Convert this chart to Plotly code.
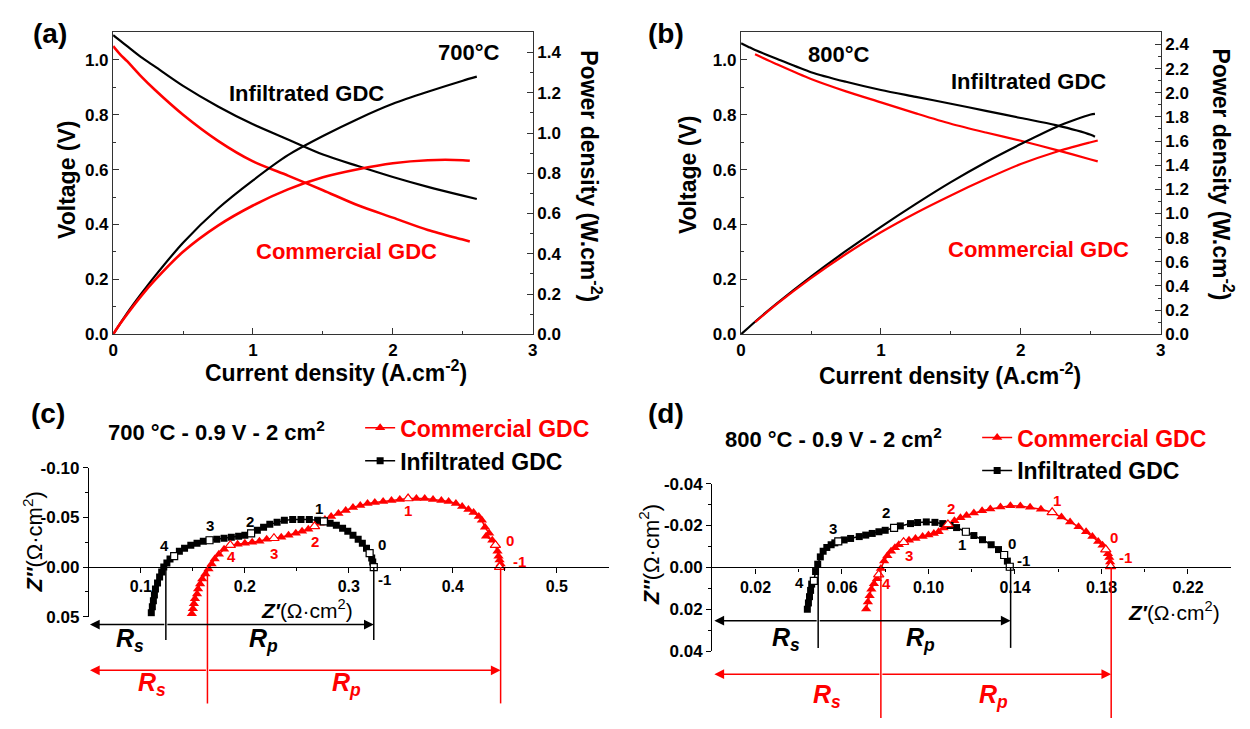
import plotly.graph_objects as go

W, H = 1250, 729
def px(x): return x / W
def py(y): return 1 - y / H

RED = "#ff0000"
BLK = "#000000"
AX = "#333333"
FONT = "Liberation Sans, Arial, sans-serif"

# ---------------- (a) 700 C polarisation ----------------
a_I_inf = [0, 0.05, 0.1, 0.2, 0.3, 0.5, 0.75, 1.0, 1.25, 1.5, 1.75, 2.0, 2.25, 2.5, 2.6]
a_V_inf = [1.09, 1.07, 1.05, 1.01, 0.975, 0.905, 0.83, 0.765, 0.71, 0.655, 0.613, 0.573, 0.537, 0.505, 0.493]
a_P_inf = [0, 0.053, 0.105, 0.20, 0.29, 0.455, 0.625, 0.765, 0.89, 0.985, 1.07, 1.145, 1.205, 1.26, 1.28]
a_I_com = [0, 0.05, 0.1, 0.2, 0.3, 0.5, 0.75, 1.0, 1.25, 1.5, 1.75, 2.0, 2.25, 2.5, 2.55]
a_V_com = [1.05, 1.02, 0.995, 0.94, 0.89, 0.80, 0.705, 0.63, 0.578, 0.525, 0.47, 0.425, 0.38, 0.345, 0.338]
a_P_com = [0, 0.052, 0.10, 0.19, 0.27, 0.41, 0.54, 0.64, 0.72, 0.78, 0.82, 0.85, 0.865, 0.865, 0.862]

# ---------------- (b) 800 C polarisation ----------------
b_I_inf = [0, 0.05, 0.1, 0.25, 0.5, 0.75, 1.0, 1.25, 1.5, 1.75, 2.0, 2.25, 2.5, 2.53]
b_V_inf = [1.06, 1.048, 1.036, 1.005, 0.955, 0.92, 0.89, 0.865, 0.84, 0.814, 0.788, 0.762, 0.727, 0.72]
b_P_inf = [0, 0.052, 0.104, 0.25, 0.478, 0.69, 0.89, 1.08, 1.26, 1.425, 1.575, 1.715, 1.82, 1.825]
b_I_com = [0.1, 0.25, 0.5, 0.75, 1.0, 1.25, 1.5, 1.75, 2.0, 2.25, 2.5, 2.55]
b_V_com = [1.02, 0.985, 0.93, 0.885, 0.845, 0.805, 0.767, 0.735, 0.705, 0.672, 0.637, 0.63]
b_P_com = [0.10, 0.245, 0.465, 0.665, 0.845, 1.005, 1.15, 1.285, 1.41, 1.51, 1.59, 1.605]

# ---------------- (c) 700 C impedance ----------------
c_inf_re = [0.110, 0.111, 0.112, 0.113, 0.114, 0.116, 0.118, 0.120, 0.122, 0.125, 0.128, 0.132,
            0.137, 0.142, 0.148, 0.154, 0.160, 0.166, 0.173, 0.180, 0.187, 0.194, 0.200, 0.206,
            0.212, 0.218, 0.224, 0.231, 0.238, 0.246, 0.254, 0.262, 0.270, 0.276, 0.282, 0.288,
            0.294, 0.299, 0.304, 0.309, 0.313, 0.317, 0.320, 0.322, 0.323, 0.324]
c_inf_im = [0.046, 0.040, 0.034, 0.028, 0.022, 0.016, 0.010, 0.005, 0.000, -0.004, -0.008, -0.011,
            -0.016, -0.019, -0.022, -0.024, -0.026, -0.027, -0.028, -0.029, -0.030, -0.031, -0.032, -0.034,
            -0.037, -0.040, -0.043, -0.045, -0.047, -0.048, -0.048, -0.048, -0.047, -0.046, -0.044, -0.042,
            -0.039, -0.036, -0.032, -0.028, -0.024, -0.019, -0.014, -0.009, -0.005, 0.000]
c_com_re = [0.149, 0.150, 0.151, 0.152, 0.154, 0.155, 0.157, 0.159, 0.162, 0.165, 0.168, 0.171,
            0.175, 0.180, 0.186, 0.193, 0.200, 0.207, 0.214, 0.221, 0.228, 0.235, 0.242, 0.249,
            0.255, 0.261, 0.267, 0.272, 0.277, 0.283, 0.290, 0.297, 0.304, 0.311, 0.318, 0.325,
            0.333, 0.341, 0.349, 0.357, 0.365, 0.373, 0.381, 0.389, 0.396, 0.403, 0.409, 0.415,
            0.420, 0.425, 0.428, 0.431, 0.435, 0.432, 0.438, 0.441, 0.443, 0.444, 0.445, 0.446, 0.446]
c_com_im = [0.047, 0.042, 0.037, 0.032, 0.027, 0.022, 0.017, 0.012, 0.007, 0.002, -0.003, -0.008,
            -0.013, -0.018, -0.022, -0.023, -0.024, -0.025, -0.026, -0.028, -0.029, -0.030, -0.032, -0.034,
            -0.036, -0.038, -0.041, -0.044, -0.048, -0.051, -0.054, -0.057, -0.060, -0.062, -0.064, -0.065,
            -0.066, -0.067, -0.068, -0.069, -0.069, -0.069, -0.068, -0.067, -0.066, -0.064, -0.061, -0.058,
            -0.055, -0.051, -0.047, -0.040, -0.034, -0.031, -0.027, -0.022, -0.016, -0.011, -0.007, -0.003, 0.000]
c_inf_open_re = [0.132, 0.166, 0.206, 0.276, 0.320, 0.324]
c_inf_open_im = [-0.011, -0.027, -0.034, -0.046, -0.014, 0.000]
c_com_open_re = [0.186, 0.228, 0.267, 0.357, 0.441, 0.445]
c_com_open_im = [-0.022, -0.029, -0.041, -0.069, -0.022, 0.000]
freq_labels = ["4", "3", "2", "1", "0", "-1"]
c_Rs = [0.124, 0.164]      # infiltrated, commercial
c_Rend = [0.324, 0.446]

# ---------------- (d) 800 C impedance ----------------
d_inf_re = [0.044, 0.0445, 0.045, 0.0455, 0.046, 0.047, 0.0478, 0.0488, 0.050, 0.0513, 0.053, 0.055,
            0.0567, 0.0583, 0.061, 0.064, 0.068, 0.071, 0.074, 0.0771, 0.080, 0.0841, 0.087, 0.0917,
            0.095, 0.099, 0.103, 0.1066, 0.110, 0.113, 0.1173, 0.121, 0.125, 0.129, 0.1324, 0.135,
            0.1365, 0.1376]
d_inf_im = [0.020, 0.017, 0.014, 0.011, 0.008, 0.0065, 0.002, -0.0015, -0.005, -0.0077, -0.0095, -0.0108,
            -0.0117, -0.0124, -0.0131, -0.0138, -0.0147, -0.0154, -0.0162, -0.0170, -0.0177, -0.0189, -0.0198, -0.0209,
            -0.0214, -0.0217, -0.0215, -0.0209, -0.0200, -0.0190, -0.0170, -0.0152, -0.0132, -0.0108, -0.0085, -0.0059,
            -0.0030, -0.0003]
d_com_re = [0.0712, 0.0720, 0.0728, 0.0736, 0.0748, 0.0762, 0.0770, 0.0780, 0.0795, 0.0810, 0.0827, 0.0845,
            0.0863, 0.0885, 0.0910, 0.0940, 0.0973, 0.1000, 0.1025, 0.1047, 0.1070, 0.1090, 0.1120, 0.1148,
            0.1176, 0.1210, 0.1248, 0.1286, 0.1333, 0.1379, 0.1425, 0.1470, 0.1520, 0.1572, 0.1615, 0.1655,
            0.1694, 0.1729, 0.1758, 0.1785, 0.1805, 0.1820, 0.1830, 0.1836, 0.1840, 0.1842]
d_com_im = [0.0199, 0.0165, 0.0135, 0.0105, 0.0078, 0.0054, 0.0035, 0.0005, -0.0030, -0.0055, -0.0077, -0.0094,
            -0.0108, -0.0120, -0.0130, -0.0138, -0.0147, -0.0155, -0.0162, -0.0170, -0.0188, -0.0205, -0.0222, -0.0237,
            -0.0248, -0.0260, -0.0270, -0.0279, -0.0288, -0.0294, -0.0293, -0.0287, -0.0277, -0.0263, -0.0241, -0.0217,
            -0.0194, -0.0170, -0.0147, -0.0124, -0.0105, -0.0085, -0.0065, -0.0047, -0.0025, -0.0005]
d_inf_open_re = [0.047, 0.0583, 0.0841, 0.1173, 0.135, 0.1376]
d_inf_open_im = [0.0065, -0.0124, -0.0189, -0.0170, -0.0059, -0.0003]
d_com_open_re = [0.077, 0.0885, 0.109, 0.1572, 0.182, 0.1842]
d_com_open_im = [0.0035, -0.0120, -0.0205, -0.0263, -0.0085, -0.0005]
d_Rs = [0.049, 0.078]
d_Rend = [0.138, 0.1845]

fig = go.Figure()

def line_tr(x, y, color, xa, ya, width=2.2):
    fig.add_trace(go.Scatter(x=x, y=y, mode="lines",
                             line=dict(color=color, width=width, shape="spline", smoothing=0.8),
                             xaxis=xa, yaxis=ya, showlegend=False, hoverinfo="skip"))

# (a)
line_tr(a_I_inf, a_V_inf, BLK, "x", "y")
line_tr(a_I_com, a_V_com, RED, "x", "y", 2.6)
line_tr(a_I_inf, a_P_inf, BLK, "x", "y2")
line_tr(a_I_com, a_P_com, RED, "x", "y2", 2.6)
# (b)
line_tr(b_I_inf, b_V_inf, BLK, "x2", "y3")
line_tr(b_I_com, b_V_com, RED, "x2", "y3")
line_tr(b_I_inf, b_P_inf, BLK, "x2", "y4")
line_tr(b_I_com, b_P_com, RED, "x2", "y4")

com_name = '<span style="color:#ff0000">Commercial GDC</span>'
inf_name = 'Infiltrated GDC'

def nyq(re, im, ore, oim, xa, ya, leg):
    fig.add_trace(go.Scatter(x=re[0], y=im[0], mode="lines+markers", name=com_name,
                             line=dict(color=RED, width=1.5),
                             marker=dict(symbol="triangle-up", size=9, color=RED),
                             xaxis=xa, yaxis=ya, legend=leg, hoverinfo="skip"))
    fig.add_trace(go.Scatter(x=re[1], y=im[1], mode="lines+markers", name=inf_name,
                             line=dict(color=BLK, width=1.5),
                             marker=dict(symbol="square", size=7, color=BLK),
                             xaxis=xa, yaxis=ya, legend=leg, hoverinfo="skip"))
    fig.add_trace(go.Scatter(x=ore[0], y=oim[0], mode="markers", showlegend=False,
                             marker=dict(symbol="triangle-up", size=9, color="white",
                                         line=dict(color=RED, width=1.2)),
                             xaxis=xa, yaxis=ya, hoverinfo="skip"))
    fig.add_trace(go.Scatter(x=ore[1], y=oim[1], mode="markers", showlegend=False,
                             marker=dict(symbol="square", size=7, color="white",
                                         line=dict(color=BLK, width=1.2)),
                             xaxis=xa, yaxis=ya, hoverinfo="skip"))

nyq([c_com_re, c_inf_re], [c_com_im, c_inf_im], [c_com_open_re, c_inf_open_re],
    [c_com_open_im, c_inf_open_im], "x3", "y5", "legend")
nyq([d_com_re, d_inf_re], [d_com_im, d_inf_im], [d_com_open_re, d_inf_open_re],
    [d_com_open_im, d_inf_open_im], "x4", "y6", "legend2")

tickfont = dict(family=FONT, size=17, color=BLK, weight="bold")
nyq_tickfont = dict(family=FONT, size=16, color=BLK, weight="bold")

def pol_x(dom, anchor):
    return dict(domain=dom, anchor=anchor, range=[0, 3], tickvals=[0, 1, 2, 3],
                ticks="inside", ticklen=6, tickcolor=AX, showline=True, linecolor=AX,
                linewidth=1.3, mirror=True, showgrid=False, zeroline=False, tickfont=tickfont,
                minor=dict(tickvals=[0.5, 1.5, 2.5], ticks="inside", ticklen=3, tickcolor=AX))

def pol_y(dom, anchor, rng, overlay=None, side="left"):
    d = dict(domain=dom, anchor=anchor, range=rng, dtick=0.2, tick0=0, tickformat=".1f",
             ticks="inside", ticklen=6, tickcolor=AX, showline=True, linecolor=AX,
             linewidth=1.3, showgrid=False, zeroline=False, tickfont=tickfont, side=side,
             minor=dict(dtick=0.1, tick0=0, ticks="inside", ticklen=3, tickcolor=AX))
    if overlay:
        d["overlaying"] = overlay
    return d

ydom_top = [py(334), py(24)]

# Nyquist axes
c_xdom = [px(84.6), px(608.6)]
c_ydom = [py(624), py(471)]
c_yr = [0.05, -0.10]
d_xdom = [px(712.9), px(1236.1)]
d_ydom = [py(659.3), py(487.3)]
d_yr = [0.04, -0.04]

def zero_pos(dom, rng):
    return dom[0] + (dom[1] - dom[0]) * (0 - rng[0]) / (rng[1] - rng[0])

c_zero = zero_pos(c_ydom, c_yr)
d_zero = zero_pos(d_ydom, d_yr)

def nyq_x(dom, rng, pos, tv, tt, mv):
    return dict(domain=dom, anchor="free", position=pos, range=rng, tickvals=tv, ticktext=tt,
                ticks="outside", ticklen=5, tickcolor=BLK, showline=True, linecolor=BLK,
                linewidth=1.3, showgrid=False, zeroline=False, tickfont=nyq_tickfont,
                minor=dict(tickvals=mv, ticks="outside", ticklen=3, tickcolor=BLK))

def nyq_y(dom, rng, anchor, tv, tt, mv):
    return dict(domain=dom, anchor=anchor, range=rng, tickvals=tv, ticktext=tt,
                ticks="outside", ticklen=5, tickcolor=BLK, showline=True, linecolor=BLK,
                linewidth=1.3, showgrid=False, zeroline=False, tickfont=tickfont,
                minor=dict(tickvals=mv, ticks="outside", ticklen=3, tickcolor=BLK))

c_xt = [0.1, 0.2, 0.3, 0.4, 0.5]
c_yt = [-0.10, -0.05, 0.0, 0.05]
d_xt = [0.02, 0.06, 0.10, 0.14, 0.18, 0.22]
d_yt = [-0.04, -0.02, 0.0, 0.02, 0.04]

leg_common = dict(xanchor="left", yanchor="top", bgcolor="rgba(0,0,0,0)", borderwidth=0,
                  font=dict(family=FONT, size=23, color=BLK, weight="bold"),
                  tracegroupgap=0, itemwidth=30, traceorder="normal")

fig.update_layout(
    width=W, height=H, margin=dict(l=0, r=0, t=0, b=0),
    paper_bgcolor="white", plot_bgcolor="white",
    font=dict(family=FONT, color=BLK),
    xaxis=pol_x([px(109), px(532)], "y"),
    yaxis=pol_y(ydom_top, "x", [0, 1.1]),
    yaxis2=pol_y(ydom_top, "x", [0, 1.5], overlay="y", side="right"),
    xaxis2=pol_x([px(742), px(1165)], "y3"),
    yaxis3=pol_y(ydom_top, "x2", [0, 1.1]),
    yaxis4=pol_y(ydom_top, "x2", [0, 2.5], overlay="y3", side="right"),
    xaxis3=nyq_x(c_xdom, [0.05, 0.55], c_zero, c_xt, [f"{v:.1f}" for v in c_xt],
                 [0.15, 0.25, 0.35, 0.45]),
    yaxis5=nyq_y(c_ydom, c_yr, "x3", c_yt, [f"{v:.2f}".replace("-0.00", "0.00") for v in c_yt],
                 [-0.075, -0.025, 0.025]),
    xaxis4=nyq_x(d_xdom, [0, 0.24], d_zero, d_xt, [f"{v:.2f}" for v in d_xt],
                 [0.04, 0.08, 0.12, 0.16, 0.20]),
    yaxis6=nyq_y(d_ydom, d_yr, "x4", d_yt, [f"{v:.2f}" for v in d_yt],
                 [-0.03, -0.01, 0.01, 0.03]),
    legend=dict(x=px(358), y=py(408), **leg_common),
    legend2=dict(x=px(980), y=py(418), **leg_common),
    showlegend=True,
)

def ann(text, x, y, size, color=BLK, angle=0, xanchor="center"):
    fig.add_annotation(text=text, x=px(x), y=py(y), xref="paper", yref="paper", showarrow=False,
                       font=dict(family=FONT, size=size, color=color), textangle=angle,
                       xanchor=xanchor, yanchor="middle")

# panel letters
ann("<b>(a)</b>", 45, 25, 28)
ann("<b>(b)</b>", 666, 25, 28)
ann("<b>(c)</b>", 43, 415, 28)
ann("<b>(d)</b>", 666, 415, 28)

# (a) texts
ann("<b>700°C</b>", 468, 45, 22)
ann("<b>Infiltrated GDC</b>", 304, 87, 22)
ann("<b>Commercial GDC</b>", 344, 249, 22, RED)
ann("<b>Voltage (V)</b>", 63, 175, 23, angle=-90)
ann("<b>Power density (W.cm<sup>-2</sup>)</b>", 591, 172, 23, angle=90)
ann("<b>Current density (A.cm<sup>-2</sup>)</b>", 334, 372, 23)
# (b) texts
ann("<b>800°C</b>", 841, 47, 22)
ann("<b>Infiltrated GDC</b>", 1032, 74, 22)
ann("<b>Commercial GDC</b>", 1042, 247, 22, RED)
ann("<b>Voltage (V)</b>", 688, 170, 23, angle=-90)
ann("<b>Power density (W.cm<sup>-2</sup>)</b>", 1228, 170, 23, angle=90)
ann("<b>Current density (A.cm<sup>-2</sup>)</b>", 953, 375, 23)
# (c)/(d) texts
ann("<b>700 °C - 0.9 V - 2 cm<sup>2</sup></b>", 213, 433, 22)
ann("<b>800 °C - 0.9 V - 2 cm<sup>2</sup></b>", 835, 440, 22)
zim = "<b><i>Z″</i></b>(Ω·cm<sup>2</sup>)"
zre = "<b><i>Z′</i></b>(Ω·cm<sup>2</sup>)"
ann(zim, 28, 547, 22, angle=-90)
ann(zim, 650, 560, 22, angle=-90)
ann(zre, 304, 616, 21)
ann(zre, 1178, 618, 21)

def rlab(sub, x, y, color):
    ann(f"<b><i>R</i></b><sub><b><i>{sub}</i></b></sub>", x, y, 25, color)

rlab("s", 126, 648, BLK); rlab("p", 261, 648, BLK)
rlab("s", 148, 693, RED); rlab("p", 344, 693, RED)
rlab("s", 787, 647, BLK); rlab("p", 923, 647, BLK)
rlab("s", 829, 705, RED); rlab("p", 996, 705, RED)

# frequency decade labels (offsets in pixels)
c_inf_off = [(-10, 11), (0, 15), (-1, 12), (-5, 13), (12, 9), (11, -12)]
c_com_off = [(1, -11), (0, -15), (0, -15), (0, -12), (15, 5), (20, 6)]
d_inf_off = [(-14, -2), (-5, 13), (-8, 15), (-4, -13), (8, 11), (14, 6)]
d_com_off = [(8, -9), (5, -13), (3, 16), (5, 12), (8, 12), (15, 9)]

def flabels(xs, ys, offs, color, xa, ya):
    for xv, yv, lab, (dx, dy) in zip(xs, ys, freq_labels, offs):
        fig.add_annotation(text=f"<b>{lab}</b>", x=xv, y=yv, xref=xa, yref=ya, showarrow=False,
                           xshift=dx, yshift=dy, font=dict(family=FONT, size=15, color=color))

flabels(c_inf_open_re, c_inf_open_im, c_inf_off, BLK, "x3", "y5")
flabels(c_com_open_re, c_com_open_im, c_com_off, RED, "x3", "y5")
flabels(d_inf_open_re, d_inf_open_im, d_inf_off, BLK, "x4", "y6")
flabels(d_com_open_re, d_com_open_im, d_com_off, RED, "x4", "y6")

# Rs / Rp guides
def guides(xa, xmin, rs, rend, zero_paper, color, yarrow, ybottom):
    for xv in (rs, rend):
        fig.add_shape(type="line", xref=xa, yref="paper", x0=xv, x1=xv,
                      y0=zero_paper, y1=py(ybottom), line=dict(color=color, width=1.5))
    for tail, head in ((rs, xmin), (rs, rend)):
        fig.add_annotation(text="", x=head, y=py(yarrow), xref=xa, yref="paper",
                           ax=tail, ay=0, axref=xa, ayref="pixel", showarrow=True,
                           arrowhead=2, arrowsize=1.3, arrowwidth=1.5, arrowcolor=color)

guides("x3", 0.051, c_Rs[0], c_Rend[0], c_zero, BLK, 632, 648)
guides("x3", 0.051, c_Rs[1], c_Rend[1], c_zero, RED, 679, 713)
guides("x4", 0.001, d_Rs[0], d_Rend[0], d_zero, BLK, 628, 656)
guides("x4", 0.001, d_Rs[1], d_Rend[1], d_zero, RED, 683, 728)

fig.write_html("out.html")
